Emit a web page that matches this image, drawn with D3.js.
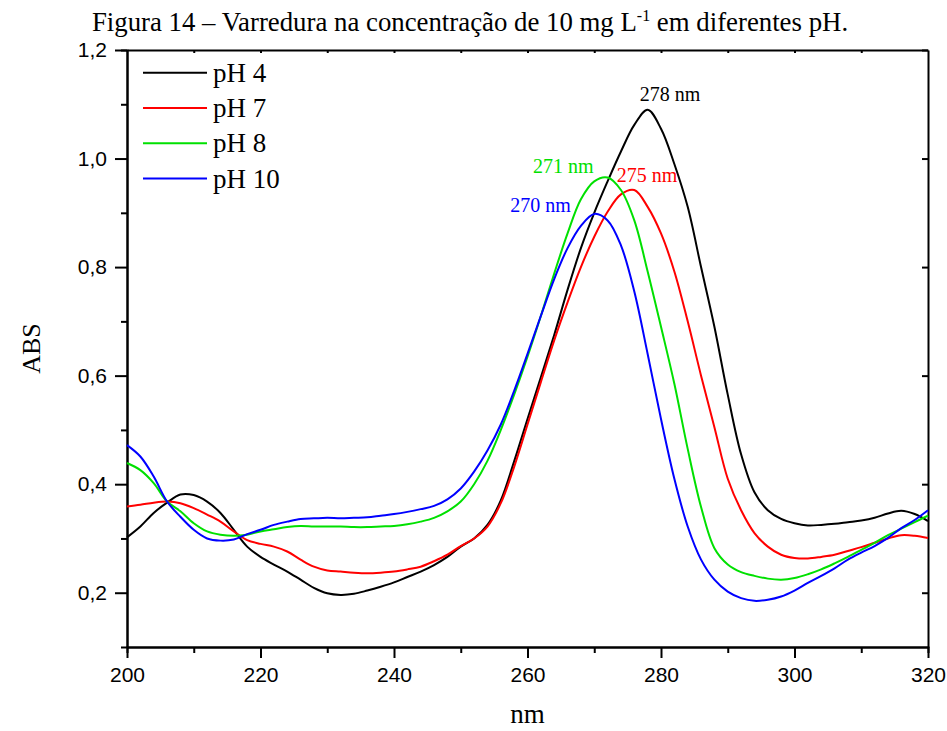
<!DOCTYPE html>
<html>
<head>
<meta charset="utf-8">
<script src="https://cdn.jsdelivr.net/npm/d3@7"></script>
<style>
  body { margin: 0; background: #fff; }
  svg { display: block; }
</style>
</head>
<body>
<div id="chart"></div>
<script>
// wavelength (nm), 2 nm steps
const wavelengths = d3.range(200, 321, 2);

const ph4 = [0.302,0.322,0.347,0.366,0.381,0.380,0.368,0.347,0.316,0.285,
  0.266,0.252,0.239,0.224,0.209,0.199,0.196,0.198,0.204,0.211,
  0.219,0.229,0.239,0.251,0.266,0.285,0.300,0.325,0.370,0.442,
  0.520,0.597,0.675,0.758,0.835,0.900,0.958,1.013,1.062,1.090,
  1.055,0.990,0.911,0.800,0.690,0.565,0.455,0.385,0.352,0.336,
  0.328,0.324,0.325,0.327,0.330,0.333,0.338,0.346,0.351,0.345,0.332];

const ph7 = [0.359,0.362,0.366,0.368,0.365,0.356,0.344,0.331,0.313,0.297,
  0.290,0.285,0.276,0.261,0.248,0.241,0.239,0.237,0.236,0.237,
  0.239,0.243,0.248,0.258,0.270,0.286,0.300,0.322,0.365,0.432,
  0.510,0.588,0.665,0.735,0.800,0.856,0.902,0.934,0.942,0.911,
  0.862,0.792,0.700,0.600,0.505,0.410,0.352,0.310,0.285,0.270,
  0.264,0.263,0.266,0.270,0.277,0.284,0.292,0.300,0.306,0.305,0.301];

const ph8 = [0.439,0.426,0.402,0.368,0.350,0.328,0.313,0.307,0.305,0.307,
  0.313,0.317,0.321,0.323,0.322,0.322,0.322,0.321,0.321,0.322,
  0.323,0.326,0.331,0.338,0.350,0.368,0.400,0.443,0.500,0.565,
  0.635,0.710,0.788,0.862,0.925,0.958,0.965,0.942,0.886,0.792,
  0.690,0.585,0.465,0.358,0.282,0.252,0.238,0.231,0.226,0.224,
  0.227,0.234,0.243,0.254,0.266,0.279,0.292,0.306,0.318,0.330,0.342];

const ph10 = [0.472,0.451,0.414,0.368,0.340,0.316,0.300,0.296,0.298,0.308,
  0.316,0.325,0.331,0.336,0.337,0.338,0.337,0.338,0.339,0.342,
  0.345,0.349,0.354,0.360,0.372,0.392,0.423,0.462,0.510,0.572,
  0.640,0.710,0.778,0.835,0.876,0.898,0.886,0.840,0.755,0.640,
  0.520,0.410,0.322,0.261,0.224,0.202,0.190,0.185,0.187,0.193,
  0.204,0.218,0.231,0.245,0.261,0.274,0.286,0.301,0.319,0.334,0.352];

const seriesNames = ["pH 4", "pH 7", "pH 8", "pH 10"];
const seriesColors = ["#000000", "#ff0000", "#00e000", "#0000ff"];
const seriesValues = [ph4, ph7, ph8, ph10];

// peak annotations
const peakNm = [278, 271, 275, 270];
const peakAbs = [1.09, 0.965, 0.942, 0.898];
const peakText = ["278 nm", "271 nm", "275 nm", "270 nm"];
const peakColors = ["#000000", "#00e000", "#ff0000", "#0000ff"];

const xTicks = [200, 220, 240, 260, 280, 300, 320];
const yTicks = [0.2, 0.4, 0.6, 0.8, 1.0, 1.2];

const width = 947, height = 731;
const margin = { top: 50, right: 19, bottom: 84, left: 127 };
const serif = "'Liberation Serif', 'Times New Roman', serif";
const sans = "'Liberation Sans', Arial, sans-serif";

const svg = d3.select("#chart").append("svg")
  .attr("width", width)
  .attr("height", height);

const x = d3.scaleLinear().domain([200, 320]).range([margin.left, width - margin.right]);
const y = d3.scaleLinear().domain([0.1, 1.2]).range([height - margin.bottom, margin.top]);

const fmt = d3.formatLocale({ decimal: ",", thousands: ".", grouping: [3], currency: ["", ""] }).format(".1f");

// title
const title = svg.append("text")
  .attr("x", 470).attr("y", 31)
  .attr("text-anchor", "middle")
  .style("font-family", serif)
  .style("font-size", "26.8px");
title.append("tspan").text("Figura 14 – Varredura na concentração de 10 mg L");
title.append("tspan").attr("dy", -10).style("font-size", "16px").text("-1");
title.append("tspan").attr("dy", 10).text(" em diferentes pH.");

// axes
const axisStyle = g => {
  g.select(".domain").attr("stroke", "#000").attr("stroke-width", 2);
  g.selectAll(".tick line").attr("stroke", "#000").attr("stroke-width", 2);
  g.selectAll(".tick text").style("font-family", sans).style("font-size", "21px").attr("fill", "#000");
};

svg.append("g")
  .attr("transform", `translate(0,${height - margin.bottom})`)
  .call(d3.axisBottom(x).tickValues(d3.range(210, 320, 20)).tickSize(6).tickFormat(""))
  .call(axisStyle);
svg.append("g")
  .attr("transform", `translate(0,${height - margin.bottom})`)
  .call(d3.axisBottom(x).tickValues(xTicks).tickSize(11).tickPadding(9).tickSizeOuter(0))
  .call(axisStyle);

svg.append("g")
  .attr("transform", `translate(${margin.left},0)`)
  .call(d3.axisLeft(y).tickValues(d3.range(0.3, 1.15, 0.2)).tickSize(6).tickFormat(""))
  .call(axisStyle);
svg.append("g")
  .attr("transform", `translate(${margin.left},0)`)
  .call(d3.axisLeft(y).tickValues(yTicks).tickSize(12).tickPadding(8).tickFormat(fmt).tickSizeOuter(0))
  .call(axisStyle);

// top & right frame
svg.append("g")
  .attr("transform", `translate(0,${margin.top})`)
  .call(d3.axisBottom(x).tickValues(d3.range(210, 320, 10)).tickSize(3).tickFormat("").tickSizeOuter(0))
  .call(axisStyle);
svg.append("g")
  .attr("transform", `translate(${width - margin.right},0)`)
  .call(d3.axisLeft(y).tickValues(yTicks).tickSize(6).tickFormat("").tickSizeOuter(0))
  .call(axisStyle);

// axis labels
svg.append("text")
  .attr("transform", `translate(40,${(margin.top + height - margin.bottom) / 2}) rotate(-90)`)
  .attr("text-anchor", "middle")
  .style("font-family", serif)
  .style("font-size", "26px")
  .text("ABS");
svg.append("text")
  .attr("x", (margin.left + width - margin.right) / 2)
  .attr("y", 723)
  .attr("text-anchor", "middle")
  .style("font-family", serif)
  .style("font-size", "27px")
  .text("nm");

// curves
const line = d3.line()
  .x((d, i) => x(wavelengths[i]))
  .y(d => y(d))
  .curve(d3.curveCatmullRom.alpha(0.5));

svg.append("g")
  .selectAll("path")
  .data(seriesValues)
  .join("path")
  .attr("fill", "none")
  .attr("stroke", (d, i) => seriesColors[i])
  .attr("stroke-width", 2)
  .attr("d", line);

// peak labels
const peakDx = [-8, -68, -11, -84];
const peakDy = [-9, -5, -8, -2];
svg.append("g")
  .selectAll("text")
  .data(peakText)
  .join("text")
  .attr("x", (d, i) => x(peakNm[i]) + peakDx[i])
  .attr("y", (d, i) => y(peakAbs[i]) + peakDy[i])
  .attr("fill", (d, i) => peakColors[i])
  .style("font-family", serif)
  .style("font-size", "20px")
  .text(d => d);

// legend
const legend = svg.append("g")
  .selectAll("g")
  .data(seriesNames)
  .join("g")
  .attr("transform", (d, i) => `translate(143,${72.7 + i * 35.3})`);
legend.append("line")
  .attr("x1", 0).attr("x2", 64)
  .attr("stroke", (d, i) => seriesColors[i])
  .attr("stroke-width", 2);
legend.append("text")
  .attr("x", 70).attr("y", 9)
  .style("font-family", serif)
  .style("font-size", "27px")
  .text(d => d);
</script>
</body>
</html>
